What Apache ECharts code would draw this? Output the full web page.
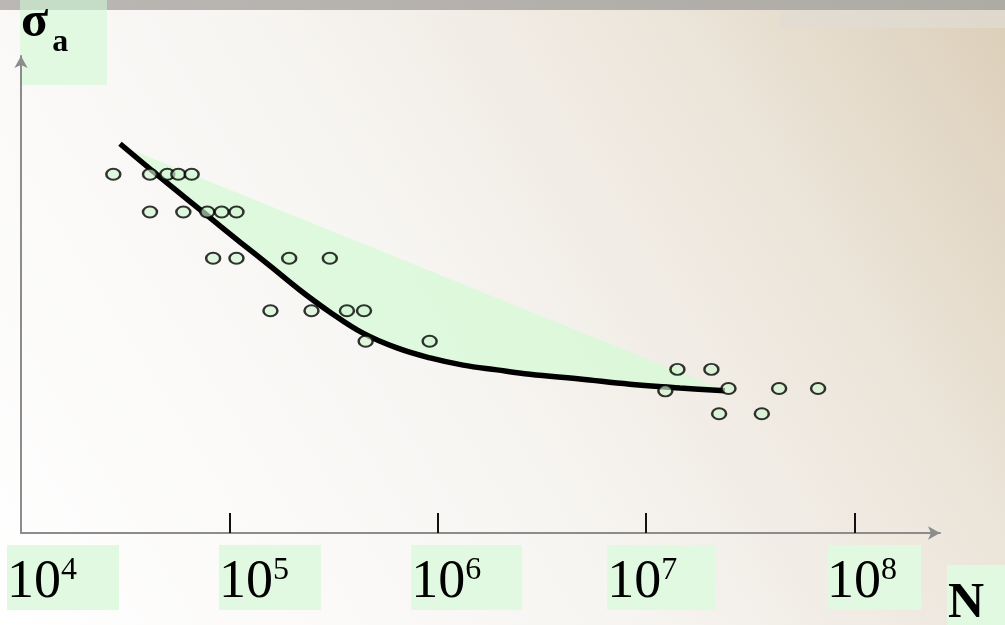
<!DOCTYPE html>
<html><head><meta charset="utf-8">
<script src="https://cdn.jsdelivr.net/npm/echarts@6/dist/echarts.min.js"></script>
<style>html,body{margin:0;padding:0;background:#fff;}#c{width:1005px;height:625px;}</style>
</head><body><div id="c"></div>
<script>
// Fatigue (Wöhler) diagram: x = lg N (decades), y = σa in relative units (axis 0..100)
const pointLgN   = [4.443, 4.619, 4.702, 4.755, 4.819,
                    4.619, 4.779, 4.894, 4.963, 5.034,
                    4.922, 5.034, 5.287, 5.482,
                    5.197, 5.394, 5.564, 5.646,
                    5.654, 5.961,
                    7.150, 7.313,
                    7.092, 7.395, 7.638, 7.825,
                    7.350, 7.555];
const pointSigma = [75.2, 75.2, 75.2, 75.2, 75.2,
                    67.3, 67.3, 67.3, 67.3, 67.3,
                    57.6, 57.6, 57.6, 57.6,
                    46.6, 46.6, 46.6, 46.6,
                    40.2, 40.2,
                    34.3, 34.3,
                    29.8, 30.3, 30.3, 30.3,
                    25.0, 25.0];
const curveLgN   = [4.475, 4.667, 4.873, 5.051, 5.195, 5.339, 5.483, 5.641, 5.804,
                    5.963, 6.121, 6.284, 6.442, 6.682, 6.922, 7.162, 7.378];
const curveSigma = [81.6, 74.6, 67.3, 61.0, 56.0, 50.9, 46.3, 41.9, 38.8,
                    36.7, 35.2, 34.2, 33.3, 32.3, 31.2, 30.4, 29.8];
const bandLgN    = [4.475, 7.378];   // upper edge of scatter band
const bandSigma  = [81.3, 29.9];
const labelExps  = [4, 5, 6, 7, 8];
const tickExps   = [5, 6, 7, 8];
const yNameMain = 'σ', yNameSub = 'a', xNameText = 'N';

const GREEN_BOX = '#e0f9e0';
const serif = "'Liberation Serif','Times New Roman',serif";
// per-label box layout (spacer width, right padding of superscript box)
const labelSpacer = {4: 84, 5: 81, 6: 58, 7: 30, 8: 39};
const labelRightPad = {4: 42, 5: 32, 6: 41, 7: 38, 8: 24};
const rich = {
  m: {fontFamily: serif, fontSize: 54, color: '#000', backgroundColor: GREEN_BOX, padding: [11, 0, 0, 0]}
};
labelExps.forEach(k => {
  rich['sp' + k] = {width: labelSpacer[k], fontSize: 10};
  rich['s' + k] = {fontFamily: serif, fontSize: 32, color: '#000', backgroundColor: GREEN_BOX,
                   padding: [10, labelRightPad[k], 23, 0]};
});

const chart = echarts.init(document.getElementById('c'), null, {renderer: 'canvas'});
const points = pointLgN.map((x, i) => [x, pointSigma[i]]);
const curve = curveLgN.map((x, i) => [x, curveSigma[i]]);

chart.setOption({
  animation: false,
  backgroundColor: 'transparent',
  graphic: [
    {type: 'rect', z: -10, silent: true, shape: {x: 0, y: 0, width: 1005, height: 625},
     style: {fill: {type: 'linear', x: 0, y: 1, x2: 1, y2: 0, colorStops: [
       {offset: 0, color: '#ffffff'}, {offset: 0.45, color: '#f7f5f2'},
       {offset: 0.75, color: '#ece5da'}, {offset: 1, color: '#dccfb9'}]}}},
    {type: 'rect', z: -9, silent: true, shape: {x: 780, y: 10, width: 225, height: 18},
     style: {fill: 'rgba(224,219,212,0.7)'}},
    {type: 'rect', z: -8, silent: true, shape: {x: 20, y: 0, width: 87, height: 85},
     style: {fill: GREEN_BOX}},
    {type: 'rect', z: -7, silent: true, shape: {x: 0, y: 0, width: 1005, height: 10},
     style: {fill: {type: 'linear', x: 0, y: 0, x2: 1, y2: 0, colorStops: [
       {offset: 0, color: '#bab7b4'}, {offset: 1, color: '#aeaaa4'}]}}},
    {type: 'rect', z: -6, silent: true, shape: {x: 20, y: 0, width: 87, height: 10},
     style: {fill: '#c6dcc6'}}
  ],
  grid: {left: 21, right: 65, top: 56, bottom: 92, containLabel: false, outerBoundsMode: 'none'},
  xAxis: {
    type: 'value', min: 4, max: 8.41,
    axisLine: {show: true, onZero: false, lineStyle: {color: '#8c8c8c', width: 2},
               symbol: ['none', 'arrow'], symbolSize: [10, 12]},
    axisTick: {show: true, inside: true, length: 20, customValues: tickExps,
               lineStyle: {color: '#111', width: 2}},
    axisLabel: {show: true, customValues: labelExps, margin: 12,
                formatter: v => { const k = Math.round(v); return `{sp${k}| }{m|10}{s${k}|${k}}`; },
                rich: rich},
    splitLine: {show: false},
    name: `{n|${xNameText}}`, nameLocation: 'end', nameGap: 7,
    nameTextStyle: {align: 'left', verticalAlign: 'top', padding: [32, 0, 0, 0],
      rich: {n: {fontFamily: serif, fontWeight: 'bold', fontSize: 50, color: '#000',
                 backgroundColor: GREEN_BOX, padding: [14, 21, 0, 1]}}}
  },
  yAxis: {
    type: 'value', min: 0, max: 100,
    axisLine: {show: true, onZero: false, lineStyle: {color: '#8c8c8c', width: 2},
               symbol: ['none', 'arrow'], symbolSize: [10, 12]},
    axisTick: {show: false}, axisLabel: {show: false}, splitLine: {show: false},
    name: `{s|${yNameMain}}{a|${yNameSub}}`, nameLocation: 'end', nameGap: -3,
    nameTextStyle: {align: 'left', verticalAlign: 'bottom',
      rich: {
        s: {fontFamily: serif, fontWeight: 'bold', fontSize: 50, color: '#000', padding: [4, 0, 11, 0]},
        a: {fontFamily: serif, fontWeight: 'bold', fontSize: 32, color: '#000', padding: [33, 0, 0, 4]}
      }}
  },
  series: [
    {
      type: 'custom', z: 1, silent: true,
      data: [[bandLgN[0], bandSigma[0]]],
      renderItem: (params, api) => {
        const pts = [];
        for (let i = 0; i < bandLgN.length; i++) pts.push(api.coord([bandLgN[i], bandSigma[i]]));
        for (let i = curveLgN.length - 1; i >= 0; i--) pts.push(api.coord([curveLgN[i], curveSigma[i]]));
        return {type: 'polygon', shape: {points: pts}, style: {fill: 'rgba(214,250,214,0.75)'}};
      }
    },
    {
      type: 'line', z: 3, data: curve, smooth: 0.4, showSymbol: false, silent: true,
      lineStyle: {color: '#000', width: 5.5}
    },
    {
      type: 'scatter', z: 4, data: points, symbol: 'circle', symbolSize: [14, 11], silent: true,
      itemStyle: {color: 'rgba(208,246,208,0.8)', borderColor: '#000', borderWidth: 2.2}
    }
  ]
});
</script>
</body></html>
